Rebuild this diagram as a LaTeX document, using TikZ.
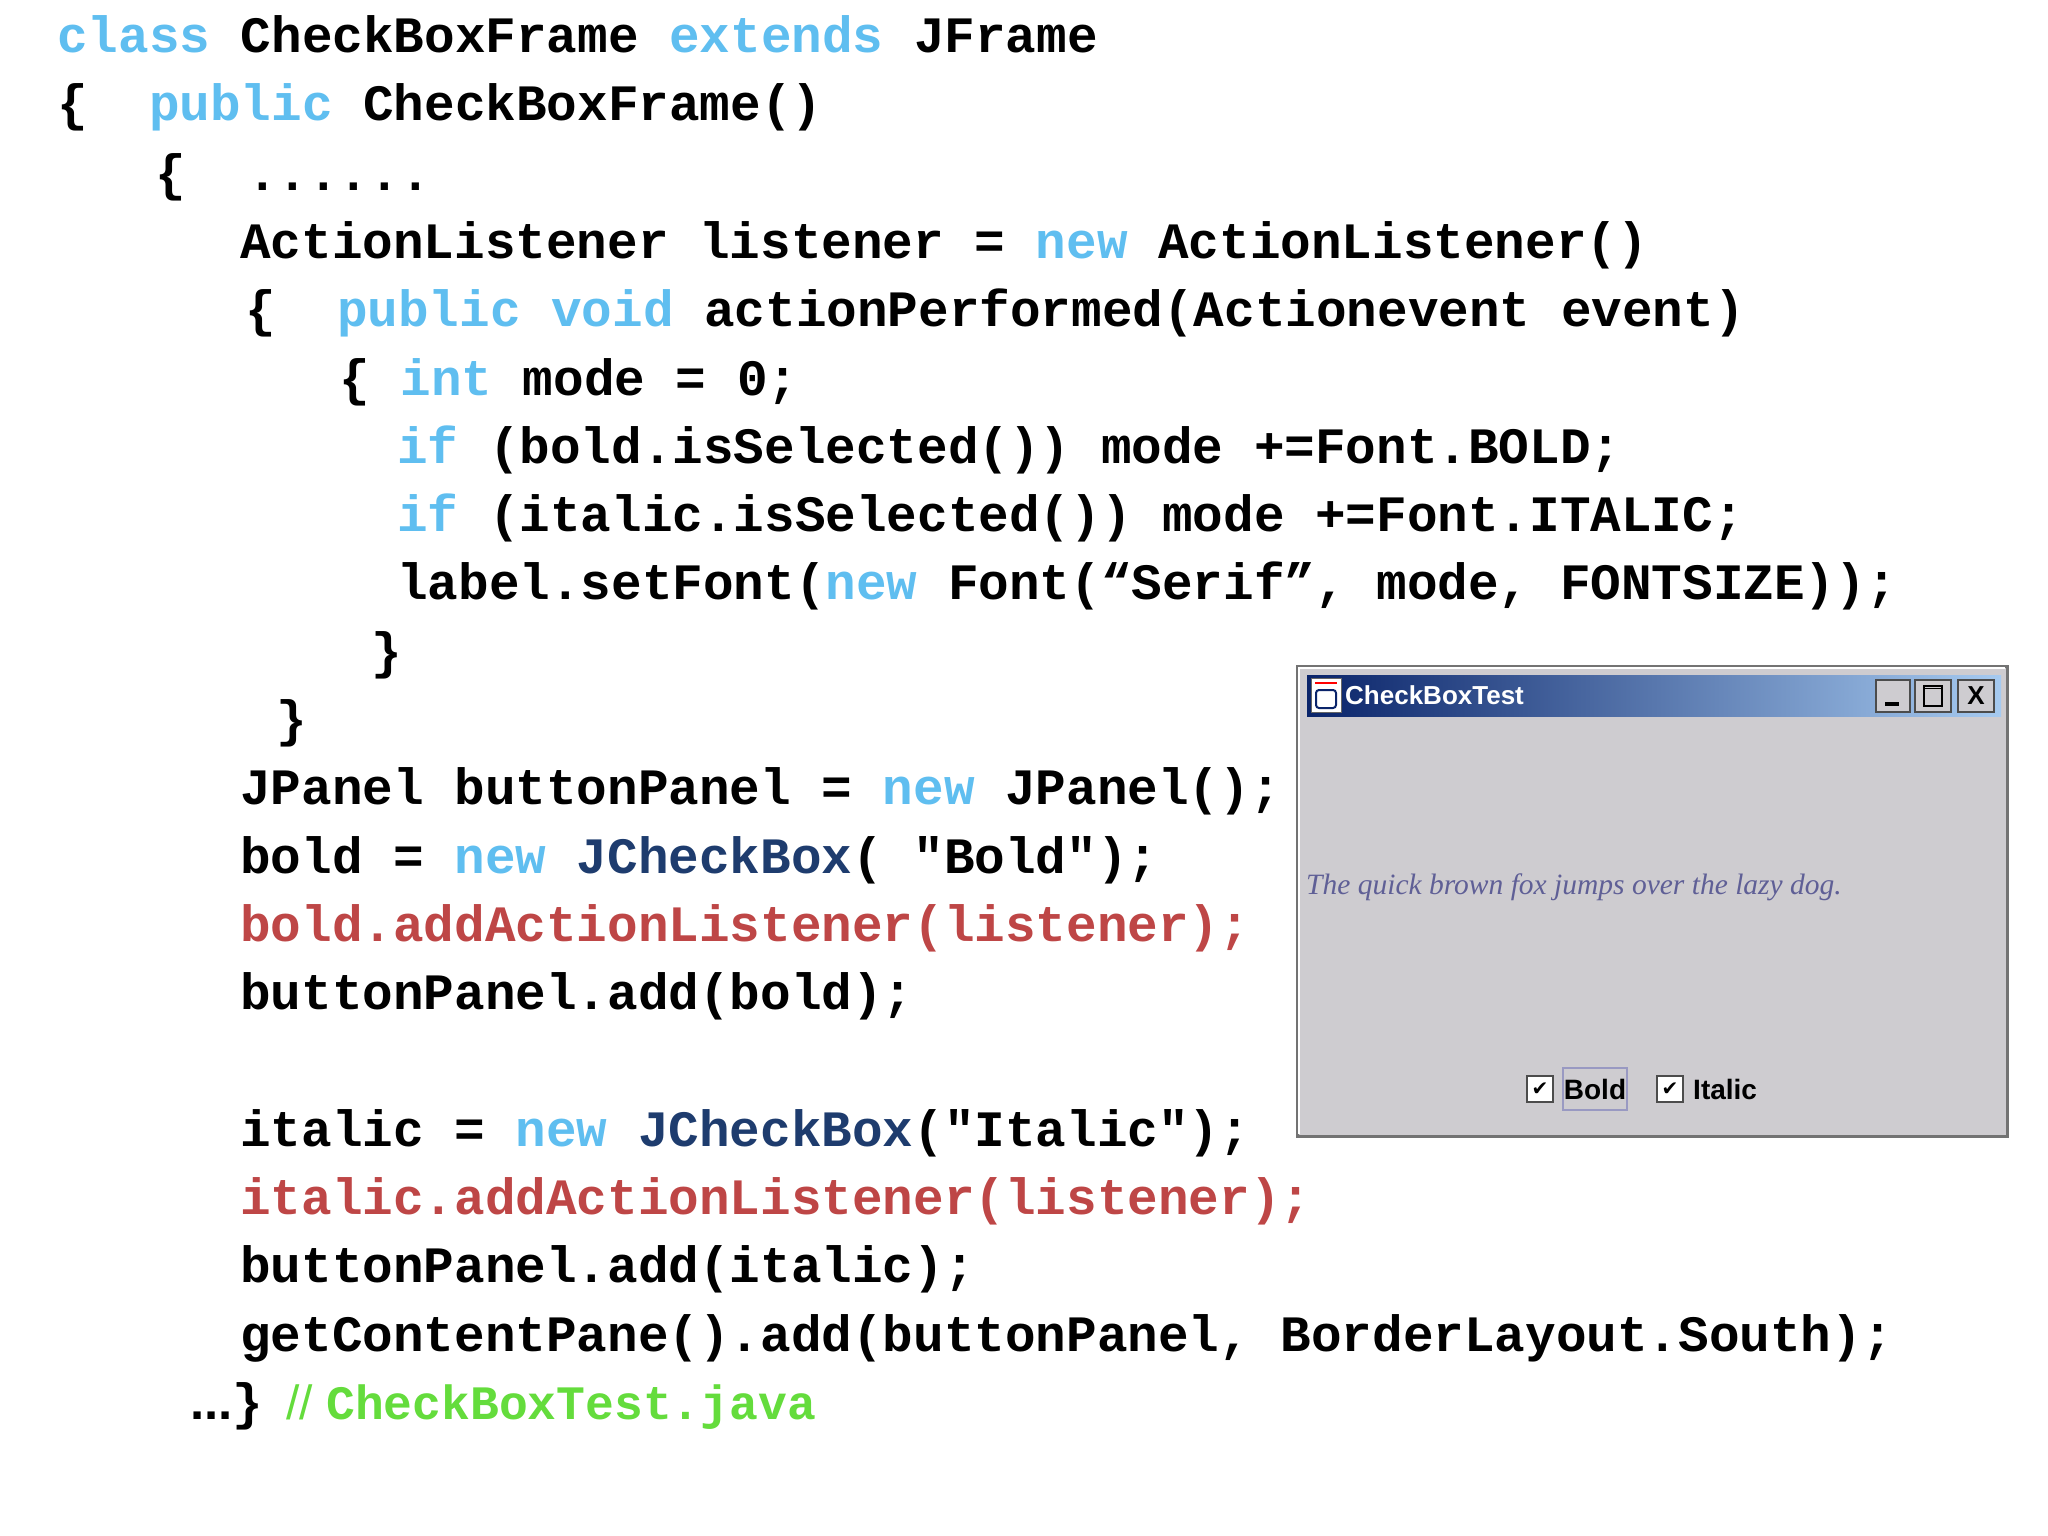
\documentclass[tikz,border=0pt]{standalone}
\usepackage{fontspec}
\newfontfamily\codefont{Liberation Mono}
\newfontfamily\uifont{Liberation Sans}
\newfontfamily\serifit{Liberation Serif}
\newfontfamily\dejavu{DejaVu Sans}
\definecolor{kwblue}{RGB}{95,190,240}
\definecolor{typeblue}{RGB}{30,60,110}
\definecolor{codered}{RGB}{190,70,70}
\definecolor{cmtgreen}{RGB}{100,220,60}
\definecolor{winbg}{RGB}{206,204,208}
\definecolor{navy}{RGB}{10,36,106}
\definecolor{skyb}{RGB}{166,202,240}
\definecolor{foxcol}{RGB}{95,95,150}
\newcommand{\kwd}[1]{\textcolor{kwblue}{#1}}
\newcommand{\typ}[1]{\textcolor{typeblue}{#1}}
\tikzset{
  code/.style={anchor=base west,inner sep=0pt,font=\codefont\bfseries\fontsize{51}{60}\selectfont},
  redcode/.style={code,text=codered},
  ui/.style={inner sep=0pt,font=\uifont\bfseries\fontsize{26}{30}\selectfont},
  tbtn/.style={fill=winbg,draw=black!70,line width=1.5pt},
  cbox/.style={fill=white,draw=black!70,line width=1.5pt,inner sep=0pt,font=\dejavu\fontsize{20}{22}\selectfont}
}
\begin{document}
\begin{tikzpicture}[x=1pt,y=1pt]
\useasboundingbox (0,0) rectangle (2048,-1536);
\fill[white] (0,0) rectangle (2048,-1536);
\node[code] (l0) at (57,-53) {\kwd{class} CheckBoxFrame \kwd{extends} JFrame};
\node[code] (l1) at (57,-121) {\{\ \ \kwd{public} CheckBoxFrame()};
\node[code] (l2) at (155,-190) {\{\ \ ......};
\node[code] (l3) at (240,-258) {ActionListener listener = \kwd{new} ActionListener()};
\node[code] (l4) at (245,-326) {\{\ \ \kwd{public void} actionPerformed(Actionevent event)};
\node[code] (l5) at (339,-395) {\{ \kwd{int} mode = 0;};
\node[code] (l6) at (397,-463) {\kwd{if} (bold.isSelected()) mode +=Font.BOLD;};
\node[code] (l7) at (397,-531) {\kwd{if} (italic.isSelected()) mode +=Font.ITALIC;};
\node[code] (l8) at (397,-599) {label.setFont(\kwd{new} Font(“Serif”, mode, FONTSIZE));};
\node[code] (l9) at (371,-668) {\}};
\node[code] (l10) at (276,-736) {\}};
\node[code] (l11) at (240,-804) {JPanel buttonPanel = \kwd{new} JPanel();};
\node[code] (l12) at (240,-873) {bold = \kwd{new} \typ{JCheckBox}( "Bold");};
\node[redcode] (l13) at (240,-941) {bold.addActionListener(listener);};
\node[code] (l14) at (240,-1009) {buttonPanel.add(bold);};
\node[code] (l16) at (240,-1146) {italic = \kwd{new} \typ{JCheckBox}("Italic");};
\node[redcode] (l17) at (240,-1214) {italic.addActionListener(listener);};
\node[code] (l18) at (240,-1282) {buttonPanel.add(italic);};
\node[code] (l19) at (240,-1351) {getContentPane().add(buttonPanel, BorderLayout.South);};
\node[code] (l20) at (190,-1419) {{\uifont\bfseries ...}\}};
\node[code,text=cmtgreen,font=\uifont\fontsize{48}{56}\selectfont] (l20b) at (286,-1419) {// \codefont\bfseries CheckBoxTest.java};
% window
\begin{scope}[shift={(-7,4)}]
\draw[fill=winbg,draw=black!55,line width=3pt] (1304,-670) rectangle (2014,-1140);
\draw[white,line width=2pt] (1306,-1138) -- (1306,-672) -- (2012,-672);
\shade[left color=navy,right color=skyb] (1314,-679) rectangle (2008,-720);
\node[draw=black!60,fill=white,minimum width=30pt,minimum height=34pt,inner sep=0pt] (icon) at (1333,-699) {};
\draw[red,line width=2pt] (1322,-687) -- (1344,-687);
\draw[navy,line width=2pt,rounded corners=3pt] (1323,-694) rectangle (1343,-712);
\node[ui,text=white,anchor=west] (title) at (1352,-699) {CheckBoxTest};
\node[tbtn,minimum width=34pt,minimum height=32pt] (bmin) at (1900,-700) {};
\node[tbtn,minimum width=36pt,minimum height=32pt] (bmax) at (1940,-700) {};
\node[tbtn,minimum width=36pt,minimum height=32pt,font=\uifont\bfseries\fontsize{26}{30}\selectfont] (bclose) at (1983,-700) {X};
\draw[black,line width=4pt] (1892,-708) -- (1906,-708);
\draw[black,line width=2.5pt] (1931,-690) rectangle (1949,-710);
\draw[black,line width=1pt] (1931,-692) -- (1949,-692);
\node[anchor=base west,inner sep=0pt,text=foxcol,font=\serifit\itshape\fontsize{29.5}{32}\selectfont] (fox) at (1313,-898) {The quick brown fox jumps over the lazy dog.};
\node[cbox,minimum width=26pt,minimum height=26pt] (cb1) at (1547,-1093) {✔};
\node[draw=blue!40!black!40,line width=1.5pt,minimum width=64pt,minimum height=42pt,inner sep=0pt] (focus) at (1602,-1093) {};
\node[ui,font=\uifont\bfseries\fontsize{28}{30}\selectfont] (boldl) at (1602,-1093) {Bold};
\node[cbox,minimum width=26pt,minimum height=26pt] (cb2) at (1677,-1093) {✔};
\node[ui,anchor=west,font=\uifont\bfseries\fontsize{28}{30}\selectfont] (itall) at (1700,-1093) {Italic};
\end{scope}
\end{tikzpicture}
\end{document}
